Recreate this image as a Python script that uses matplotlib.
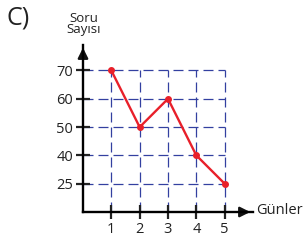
import matplotlib
matplotlib.use("Agg")
import matplotlib.pyplot as plt

plt.rcParams['font.family'] = ['Open Sans', 'DejaVu Sans']

# data
days = [1, 2, 3, 4, 5]
questions = [70, 50, 60, 40, 25]
y_levels = [25, 40, 50, 60, 70]   # equally spaced on the axis

# y axis is evenly spaced by level, not linear
ypos = [y_levels.index(v) + 1 for v in questions]
level_pos = list(range(1, len(y_levels) + 1))

fig = plt.figure(figsize=(3.06, 2.40), dpi=100)
ax = fig.add_axes([83 / 306, 28 / 240, 170 / 306, 167 / 240])
ax.set_xlim(0, 6.0)
ax.set_ylim(0, 5.9)

grid_col = '#3340a0'
ax.hlines(level_pos, 0, days[-1], colors=grid_col, linestyles=(0, (8, 4)), lw=0.9, zorder=1)
ax.vlines(days, 0, level_pos[-1], colors=grid_col, linestyles=(0, (8, 4)), lw=0.9, zorder=1)

ax.plot(days, ypos, color='#e8202a', lw=1.7, marker='o', ms=4, zorder=3, clip_on=False)

for s in ['top', 'right']:
    ax.spines[s].set_visible(False)
for s in ['left', 'bottom']:
    ax.spines[s].set_linewidth(1.7)
    ax.spines[s].set_zorder(4)

ax.set_xticks(days)
ax.set_xticklabels([str(d) for d in days])
ax.set_yticks(level_pos)
ax.set_yticklabels([str(v) for v in y_levels])
ax.tick_params(direction='inout', length=10, width=1.6, labelsize=10.5, colors='#222222')
ax.tick_params(axis='x', pad=2)
ax.tick_params(axis='y', pad=2)

# arrow heads
ax.annotate('', xy=(1, 0), xytext=(0.93, 0), xycoords='axes fraction',
            arrowprops=dict(arrowstyle='-|>', color='#111111', lw=1.7, mutation_scale=15))
ax.annotate('', xy=(0, 1), xytext=(0, 0.93), xycoords='axes fraction',
            arrowprops=dict(arrowstyle='-|>', color='#111111', lw=1.7, mutation_scale=15))

fig.text(84 / 306, 1 - 24 / 240, 'Soru\nSayısı', ha='center', va='center', fontsize=9.5,
         linespacing=0.9, color='#222222')
fig.text(256 / 306, 1 - 211 / 240, 'Günler', ha='left', va='center', fontsize=10.5, color='#222222')
fig.text(6 / 306, 1 - 18 / 240, 'C)', ha='left', va='center', fontsize=18, color='#222222')

fig.savefig('out.png', dpi=100)
